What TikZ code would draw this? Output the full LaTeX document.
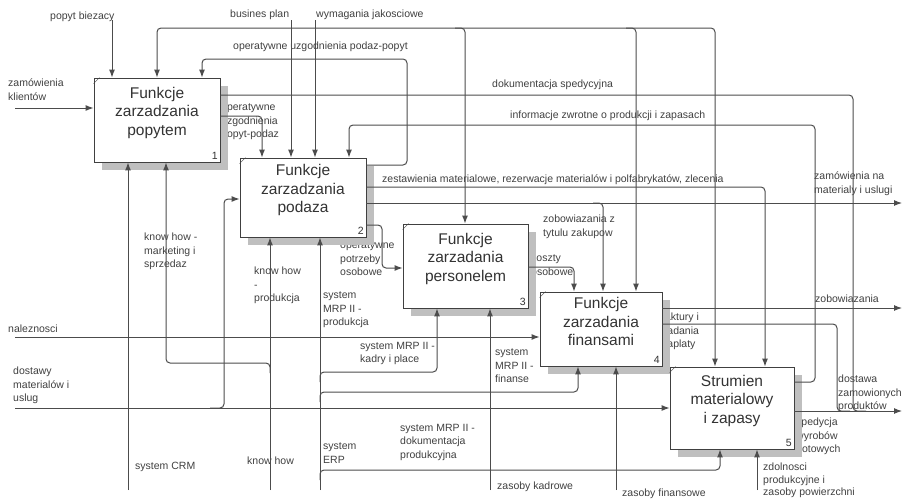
\documentclass[tikz,border=0pt]{standalone}
\usepackage{fontspec}
\setmainfont{Liberation Sans}
\usepackage{xcolor}
\usepackage{tikz}
\usetikzlibrary{shadows}
\usetikzlibrary{positioning}
\usetikzlibrary{arrows.meta}
\tikzstyle{funcbox}=[rectangle,draw=black!75,fill=white,line width=0.9pt,inner sep=0pt,drop shadow={shadow xshift=8pt,shadow yshift=-8pt,fill=black!25,opacity=1}]
\tikzstyle{ftitle}=[font=\fontsize{15.5}{18.5}\selectfont,align=center,text=black!80,inner sep=0pt]
\tikzstyle{fnum}=[font=\fontsize{10.5}{12}\selectfont,anchor=south east,inner sep=2.5pt,text=black!80]
\tikzstyle{lbl}=[font=\fontsize{10.5}{13.5}\selectfont,align=left,anchor=north west,inner sep=0pt,text=black!75]
\tikzstyle{wire}=[draw,black!70,line width=1pt,rounded corners=4pt]
\tikzstyle{flow}=[wire,-{Latex[length=8pt,width=6pt]}]

\begin{document}
\begin{tikzpicture}[x=1pt,y=-1pt]
\useasboundingbox (0,0) rectangle (902,501);

 %labels (under the shadows)
 \foreach \x/\y/\name/\label in {50/12/lpopyt/popyt biezacy, 230/10/lplan/busines plan, 316/10/lwym/wymagania jakosciowe,
        233/42/lpodpop/operatywne uzgodnienia podaz-popyt, 8/79/lzamkl/{zamówienia\\klientów},
        221/104/lpoppod/{operatywne\\uzgodnienia\\popyt-podaz}, 492/80/ldok/dokumentacja spedycyjna,
        510/111/linfo/informacje zwrotne o produkcji i zapasach,
        382/175/lzest/{zestawienia materialowe, rezerwacje materialów i polfabrykatów, zlecenia},
        814/172/lzammat/{zamówienia na\\materialy i uslugi}, 543/215/lzobz/{zobowiazania z\\tytulu zakupow},
        815/295/lzob/zobowiazania, 144/233/lkhm/{know how -\\marketing i\\sprzedaz},
        254/267/lkhp/{know how\\-\\produkcja}, 340/242/lpot/{operatywne\\potrzeby\\osobowe},
        531/254/lkos/{koszty\\osobowe}, 323/292/lmrpp/{system\\MRP II -\\produkcja}}
   \node[lbl] (\name) at (\x,\y) {\label};

 \foreach \x/\y/\name/\label in {8/325/lnal/naleznosci, 360/342/lmrpk/{system MRP II -\\kadry i place},
        495/349/lmrpf/{system\\MRP II -\\finanse}, 662/313/lfak/{faktury i\\zadania\\zaplaty},
        13/367/ldost/{dostawy\\materialów i\\uslug}, 400/424/lmrpd/{system MRP II -\\dokumentacja\\produkcyjna},
        323/443/lerp/{system\\ERP}, 135/462/lcrm/system CRM, 247/457/lkh/know how,
        497/482/lkadr/zasoby kadrowe, 622/489/lfin/zasoby finansowe,
        796/418/lsped/{spedycja\\wyrobów\\gotowych}}
   \node[lbl] (\name) at (\x,\y) {\label};
 \node[lbl,font=\fontsize{10.5}{12.5}\selectfont] (lzdol) at (763,463) {zdolnosci\\produkcyjne i\\zasoby powierzchni};
 \node[lbl] (ldostz) at (838,375) {dostawa\\zamowionych\\produktów};

 %functions
 \foreach \x/\y/\w/\h/\name/\num/\label in {157/120/126/84/b1/1/{Funkcje\\zarzadzania\\popytem},
        303/197.5/126/79/b2/2/{Funkcje\\zarzadzania\\podaza},
        465.5/266/125/84/b3/3/{Funkcje\\zarzadania\\personelem},
        601/329/122/74/b4/4/{Funkcje\\zarzadania\\finansami},
        732/408/124/82/b5/5/{Strumien\\materialowy\\i zapasy}}
 {
   \node[funcbox,minimum width=\w*1pt,minimum height=\h*1pt] (\name) at (\x,\y) {};
   \draw[black!75] ([yshift=-6pt]\name.north west) -- ([xshift=6pt]\name.north west);
   \node[ftitle] (\name title) at ([yshift=7.5pt]\name.center) {\label};
   \node[fnum] (\name num) at (\name.south east) {\num};
 }

 %edges of the sheet
 \coordinate (popytin) at (112,20);
 \coordinate (planin) at (291,20);
 \coordinate (wymin) at (315,20);
 \coordinate (klin) at (15,108);
 \coordinate (nalin) at (15,337);
 \coordinate (dostin) at (15,408);
 \coordinate (crmin) at (128,490);
 \coordinate (khin) at (270,490);
 \coordinate (erpin) at (320,490);
 \coordinate (kadin) at (490,490);
 \coordinate (finin) at (616,490);
 \coordinate (zdolin) at (757,490);
 \coordinate (zammatout) at (902,203);
 \coordinate (zobout) at (902,308);
 \coordinate (dostout) at (902,411);

 \foreach \src/\dest in {popytin/b1, planin/b2, wymin/b2}
   \path[flow] (\src) -- (\src |- \dest.north);
 \foreach \src/\dest in {crmin/b1, khin/b2, erpin/b2, kadin/b3, finin/b4, zdolin/b5}
   \path[flow] (\src) -- (\src |- \dest.south);
 \foreach \src/\dest in {klin/b1, nalin/b4, dostin/b5}
   \path[flow] (\src) -- (\src -| \dest.west);
 \foreach \src/\dest in {b2/zammatout, b4/zobout, b5/dostout}
   \path[flow] (\src.east |- \dest) -- (\dest);

 %busines plan to all functions
 \path[flow] (planin |- 0,28) -- (157,28) -- (b1.north -| 157,0);
 \path[flow] (planin |- 0,28) -- (715,28) -- (b5.north -| 715,0);
 \path[flow] (455,28) -- (465,28) -- (b3.north -| 465,0);
 \path[flow] (626,28) -- (636,28) -- (b4.north -| 636,0);

 %flows between functions
 \path[flow] (b2.east |- 0,165) -- (407,165) -- (407,59) -- (202,59) -- (b1.north -| 202,0);
 \path[flow] (b1.east |- 0,116) -- (262,116) -- (b2.north -| 262,0);
 \path[flow] (b5.east |- 0,382) -- (815,382) -- (815,125) -- (349,125) -- (b2.north -| 349,0);
 \path[flow] (b2.east |- 0,187) -- (765,187) -- (b5.north -| 765,0);
 \path[flow] (593,203) -- (603,203) -- (b4.north -| 603,0);
 \path[flow] (b2.east |- 0,225) -- (382,225) -- (382,268) -- (b3.west |- 0,268);
 \path[flow] (b3.east |- 0,267) -- (574,267) -- (b4.north -| 574,0);
 \path[flow] (210,408) -- (224,408) -- (224,199) -- (b2.west |- 0,199);
 \path[flow] (270,373) -- (270,363) -- (166,363) -- (b1.south -| 166,0);
 \path[flow] (320,382) -- (320,372) -- (437,372) -- (b3.south -| 437,0);
 \path[flow] (320,402) -- (320,392) -- (578,392) -- (b4.south -| 578,0);
 \path[flow] (320,480) -- (320,470) -- (720,470) -- (b5.south -| 720,0);

 %joining the delivery
 \path[wire] (b1.east |- 0,95) -- (853,95) -- (853,411) -- (866,411);
 \path[wire] (b4.east |- 0,324) -- (837,324) -- (837,411) -- (850,411);

\end{tikzpicture}
\end{document}
